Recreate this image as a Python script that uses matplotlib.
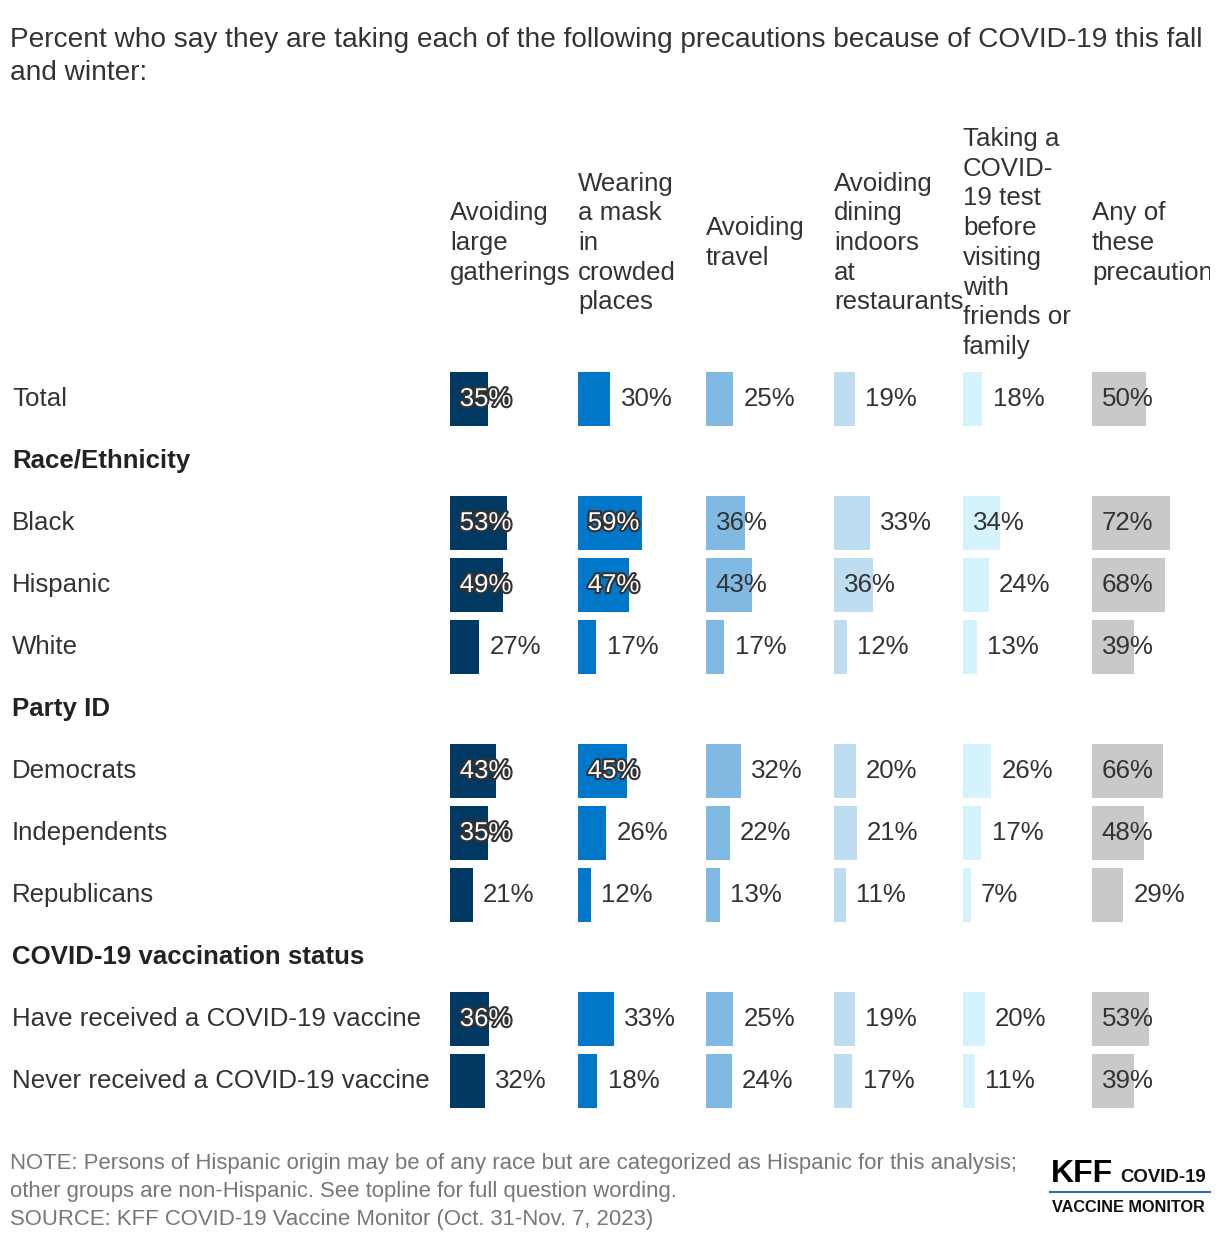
import matplotlib
matplotlib.use("Agg")
import matplotlib.pyplot as plt
import matplotlib.patheffects as pe
from matplotlib.transforms import blended_transform_factory, Bbox, TransformedBbox

plt.rcParams['font.family'] = ['Liberation Sans', 'DejaVu Sans']

# rows of the table (group headers have no bars)
rows = ["Total", "Race/Ethnicity", "Black", "Hispanic", "White", "Party ID",
        "Democrats", "Independents", "Republicans", "COVID-19 vaccination status",
        "Have received a COVID-19 vaccine", "Never received a COVID-19 vaccine"]
group_headers = ["Race/Ethnicity", "Party ID", "COVID-19 vaccination status"]
data_rows = [r for r in rows if r not in group_headers]

precautions = ["Avoiding\nlarge\ngatherings",
               "Wearing\na mask\nin\ncrowded\nplaces",
               "Avoiding\ntravel",
               "Avoiding\ndining\nindoors\nat\nrestaurants",
               "Taking a\nCOVID-\n19 test\nbefore\nvisiting\nwith\nfriends or\nfamily",
               "Any of\nthese\nprecautions"]

# values in data_rows order
large_gatherings = [35, 53, 49, 27, 43, 35, 21, 36, 32]
wearing_mask = [30, 59, 47, 17, 45, 26, 12, 33, 18]
avoid_travel = [25, 36, 43, 17, 32, 22, 13, 25, 24]
avoid_dining = [19, 33, 36, 12, 20, 21, 11, 19, 17]
testing = [18, 34, 24, 13, 26, 17, 7, 20, 11]
any_of_these = [50, 72, 68, 39, 66, 48, 29, 53, 39]
series = [large_gatherings, wearing_mask, avoid_travel, avoid_dining, testing, any_of_these]

colors = ["#003A63", "#0077C8", "#80BAE2", "#BEDDF1", "#D5F3FD", "#C9C9C9"]
dark_cols = [True, True, False, False, False, False]

W, H = 1220, 1244
fig = plt.figure(figsize=(W / 100, H / 100), dpi=100)
text_color = "#333333"
fs = 18.6

col_left = [450, 578, 706, 834, 963, 1092]
col_w = 128
px_per_pct = 1.08
top, bottom = 368, 1112

ypos = [rows.index(r) for r in data_rows]

axes = []
for j, vals in enumerate(series):
    ax = fig.add_axes([col_left[j] / W, 1 - bottom / H, col_w / W, (bottom - top) / H])
    ax.set_xlim(0, col_w / px_per_pct)
    ax.set_ylim(len(rows) - 0.5, -0.5)
    ax.axis("off")
    ax.barh(ypos, vals, height=54 / 62, color=colors[j])
    for v, y in zip(vals, ypos):
        if v >= 34:
            if dark_cols[j]:
                ax.text(9, y, f"{v}%", ha="left", va="center", fontsize=fs, color="white",
                        path_effects=[pe.withStroke(linewidth=3, foreground="#333333")])
            else:
                ax.text(9, y, f"{v}%", ha="left", va="center", fontsize=fs, color=text_color)
        else:
            ax.text(v + 9.5, y, f"{v}%", ha="left", va="center", fontsize=fs, color=text_color)
    t = fig.text(col_left[j] / W, 1 - 243 / H, precautions[j], ha="left", va="center",
                 fontsize=fs, color=text_color, linespacing=1.3)
    if j == len(series) - 1:
        # last header runs past the chart edge, as in the original
        clip = Bbox([[col_left[j] / W, 0], [(col_left[j] + 118) / W, 1]])
        t.set_clip_box(TransformedBbox(clip, fig.transFigure))
        t.set_clip_on(True)
    axes.append(ax)

# row labels
tr = blended_transform_factory(fig.transFigure, axes[0].transData)
for i, r in enumerate(rows):
    bold = r in group_headers
    axes[0].text(12 / W, i, r, transform=tr, ha="left", va="center", fontsize=fs,
                 color="#222222" if bold else text_color,
                 fontweight="bold" if bold else "normal")

# title
fig.text(10 / W, 1 - 40 / H,
         "Percent who say they are taking each of the following precautions because of COVID-19 this fall",
         ha="left", va="center", fontsize=20.2, color=text_color)
fig.text(10 / W, 1 - 73 / H, "and winter:", ha="left", va="center", fontsize=20.2, color=text_color)

# footer
footer = ["NOTE: Persons of Hispanic origin may be of any race but are categorized as Hispanic for this analysis;",
          "other groups are non-Hispanic. See topline for full question wording.",
          "SOURCE: KFF COVID-19 Vaccine Monitor (Oct. 31-Nov. 7, 2023)"]
for k, line in enumerate(footer):
    fig.text(10 / W, 1 - (1163 + 28.5 * k) / H, line, ha="left", va="center",
             fontsize=15.9, color="#777777")

# logo
fig.text(1051 / W, 1 - 1174 / H, "KFF", ha="left", va="center", fontsize=23,
         fontweight="bold", color="black")
fig.text(1120 / W, 1 - 1178 / H, "COVID-19", ha="left", va="center", fontsize=13.4,
         fontweight="bold", color="#111111")
fig.add_artist(plt.Line2D([1050 / W, 1210 / W], [1 - 1192 / H, 1 - 1192 / H],
                          color="#2C6FA8", lw=1.5))
fig.text(1052 / W, 1 - 1207 / H, "VACCINE MONITOR", ha="left", va="center", fontsize=11.7,
         fontweight="bold", color="#111111")

fig.savefig("out.png", dpi=100, facecolor="white")
